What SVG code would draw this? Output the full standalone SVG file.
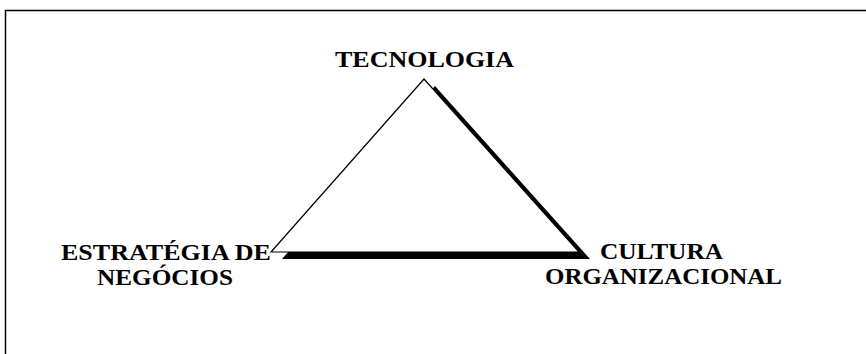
<svg xmlns="http://www.w3.org/2000/svg" width="866" height="354" viewBox="0 0 866 354">
<style>
.lbl{font-family:"Liberation Serif","Times New Roman",serif;font-weight:bold;font-size:23px;fill:#000}
</style>
<rect width="866" height="354" fill="#fff"/>
<rect x="5.5" y="10.5" width="900" height="400" fill="none" stroke="#000" stroke-width="1.5"/>
<g id="connectors">
<polygon points="435,86 282,259 590,259" fill="#000"/>
<polygon points="424,79 271,252 579,252" fill="#fff" stroke="#000" stroke-width="1.2" stroke-linejoin="miter"/>
</g>
<g id="tecnologia">
<text class="lbl" x="335" y="67" textLength="179" lengthAdjust="spacingAndGlyphs">TECNOLOGIA</text>
</g>
<g id="estrategia">
<text class="lbl" x="61" y="260" textLength="210" lengthAdjust="spacingAndGlyphs">ESTRATÉGIA DE</text>
<text class="lbl" x="97" y="285" textLength="136" lengthAdjust="spacingAndGlyphs">NEGÓCIOS</text>
</g>
<g id="cultura">
<text class="lbl" x="600" y="259" textLength="123" lengthAdjust="spacingAndGlyphs">CULTURA</text>
<text class="lbl" x="545" y="284" textLength="237" lengthAdjust="spacingAndGlyphs">ORGANIZACIONAL</text>
</g>
</svg>
